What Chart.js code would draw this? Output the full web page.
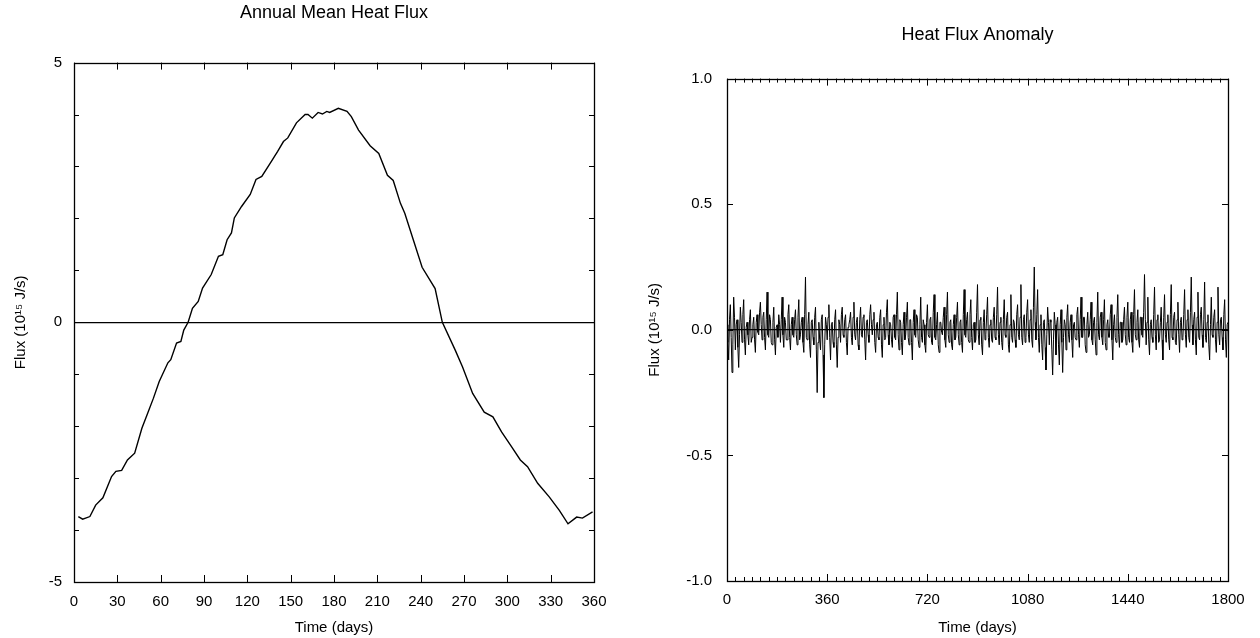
<!DOCTYPE html>
<html>
<head>
<meta charset="utf-8">
<script src="https://cdn.jsdelivr.net/npm/chart.js@4.4.1/dist/chart.umd.min.js"></script>
<style>
  body { margin: 0; background: #fff; }
  .panel { position: absolute; top: 0; width: 630px; height: 638px; }
  #left-panel { left: 0; }
  #right-panel { left: 630px; }
</style>
</head>
<body>
<div class="panel" id="left-panel"><canvas id="annual-chart"></canvas></div>
<div class="panel" id="right-panel"><canvas id="anomaly-chart"></canvas></div>
<script>
// Annual mean heat flux
const annualDays = [3, 6, 11, 15, 20, 26, 29, 33, 37, 42, 47, 51, 55, 59, 65, 67, 71, 74, 76, 79,
    82, 86, 89, 95, 100, 103, 106, 109, 111, 116, 122, 126, 130, 136, 141, 145, 148, 154, 160, 162,
    165, 169, 172, 175, 177, 183, 189, 192, 197, 205, 211, 217, 221, 226, 229, 235, 241, 250, 255, 264,
    269, 276, 284, 290, 296, 303, 309, 314, 321, 329, 336, 342, 348, 352, 359];
const annualFlux = [-3.74, -3.79, -3.74, -3.52, -3.38, -2.97, -2.87, -2.85, -2.65, -2.52, -2.04, -1.75, -1.46, -1.14, -0.78, -0.72, -0.40, -0.37, -0.15, 0.0,
    0.27, 0.40, 0.66, 0.92, 1.27, 1.30, 1.59, 1.72, 2.01, 2.23, 2.46, 2.75, 2.81, 3.07, 3.29, 3.48, 3.55, 3.84, 4.00, 4.00,
    3.93, 4.04, 4.01, 4.06, 4.04, 4.12, 4.06, 3.96, 3.70, 3.40, 3.25, 2.83, 2.73, 2.29, 2.10, 1.58, 1.06, 0.65, 0.0, -0.54,
    -0.86, -1.37, -1.73, -1.82, -2.11, -2.40, -2.65, -2.78, -3.10, -3.36, -3.62, -3.88, -3.75, -3.77, -3.65];

// Heat flux anomaly, one value every 3 days from day 0 to 1800 (one row = 120 days)
const anomalyEnd = 1800;
const anomalyFlux = [
    0.02, -0.05, -0.12, 0.04, 0.10, -0.03, -0.17, -0.06, 0.13, 0.05, -0.08, 0.02, 0.04, -0.07, -0.15, -0.02, 0.09, 0.03, -0.05, 0.06, 0.12, -0.04, -0.10, 0.01, 0.03, -0.02, -0.06, 0.04, 0.08, -0.05, -0.03, 0.02, 0.05, -0.04, -0.09, 0.03, 0.06, -0.01, -0.02, 0.07,
    0.11, 0.02, -0.04, 0.05, 0.07, -0.03, -0.08, 0.04, 0.15, -0.02, -0.03, 0.06, 0.04, -0.05, -0.06, 0.03, 0.09, -0.04, -0.10, 0.01, 0.02, -0.03, 0.06, 0.02, -0.05, 0.04, 0.13, -0.02, -0.07, 0.05, 0.03, -0.04, -0.04, 0.06, 0.10, -0.03, -0.08, 0.02, 0.05, -0.02,
    -0.03, 0.04, 0.08, -0.02, -0.06, 0.05, 0.12, -0.04, -0.02, 0.03, 0.05, -0.05, -0.09, 0.06, 0.21, -0.03, -0.04, 0.02, 0.07, -0.06, -0.11, 0.03, 0.04, -0.03, -0.06, 0.05, 0.09, -0.08, -0.25, -0.05, 0.03, -0.04, -0.08, 0.04, 0.06, -0.10, -0.27, -0.06, 0.05, 0.02,
    -0.04, 0.05, 0.10, -0.03, -0.12, 0.02, 0.03, -0.05, -0.07, 0.04, 0.08, -0.06, -0.15, -0.03, 0.04, 0.02, -0.05, 0.06, 0.09, -0.02, -0.03, 0.04, 0.06, -0.05, -0.10, 0.01, 0.02, 0.04, 0.07, -0.03, -0.06, 0.05, 0.11, -0.02, -0.04, 0.03, 0.05, -0.06, -0.08, 0.04,
    0.09, -0.02, -0.03, 0.05, 0.06, -0.04, -0.12, 0.03, 0.04, -0.02, -0.05, 0.06, 0.10, 0.02, -0.02, 0.04, 0.07, -0.05, -0.09, 0.02, 0.03, -0.03, -0.04, 0.05, 0.08, -0.06, -0.11, 0.02, 0.05, -0.04, -0.03, 0.07, 0.12, -0.02, -0.06, 0.03, 0.02, -0.04, -0.07, 0.05,
    0.06, -0.03, -0.04, 0.06, 0.15, -0.02, -0.08, 0.04, 0.03, -0.05, -0.10, 0.02, 0.07, -0.04, -0.02, 0.05, 0.11, -0.03, -0.06, 0.04, 0.04, -0.05, -0.12, 0.03, 0.08, -0.02, -0.03, 0.06, 0.05, -0.04, -0.07, 0.02, 0.13, -0.03, -0.05, 0.04, 0.02, -0.06, -0.09, 0.03,
    0.10, -0.02, -0.03, 0.04, 0.05, -0.05, -0.06, 0.07, 0.14, -0.03, -0.04, 0.02, 0.07, -0.06, -0.09, 0.03, 0.03, -0.01, -0.02, 0.05, 0.09, -0.04, -0.07, 0.06, 0.15, -0.02, -0.05, 0.03, 0.04, -0.06, -0.08, 0.02, 0.06, -0.04, -0.03, 0.05, 0.11, -0.02, -0.06, 0.03,
    0.04, -0.05, -0.09, 0.06, 0.16, -0.02, -0.03, 0.04, 0.07, -0.04, -0.05, 0.06, 0.12, -0.03, -0.08, 0.02, 0.03, -0.05, -0.04, 0.07, 0.18, -0.02, -0.06, 0.04, 0.05, -0.06, -0.10, 0.03, 0.08, -0.04, -0.02, 0.06, 0.13, -0.03, -0.07, 0.02, 0.04, -0.04, -0.05, 0.05,
    0.09, -0.03, -0.04, 0.06, 0.17, -0.02, -0.06, 0.03, 0.05, -0.05, -0.08, 0.04, 0.12, -0.02, -0.03, 0.05, 0.07, -0.06, -0.09, 0.02, 0.14, -0.03, -0.05, 0.04, 0.03, -0.04, -0.07, 0.06, 0.10, -0.02, -0.04, 0.05, 0.18, -0.03, -0.06, 0.04, 0.06, -0.05, -0.03, 0.07,
    0.12, -0.02, -0.05, 0.04, 0.08, -0.04, -0.07, 0.09, 0.25, 0.03, -0.04, 0.06, 0.16, -0.03, -0.09, 0.02, 0.06, -0.06, -0.12, 0.03, 0.04, -0.07, -0.16, -0.02, 0.09, 0.03, -0.06, 0.04, 0.03, -0.08, -0.18, -0.04, 0.07, 0.02, -0.10, 0.03, 0.05, -0.06, -0.14, 0.02,
    0.08, -0.05, -0.17, -0.03, 0.04, 0.02, -0.08, 0.05, 0.10, -0.02, -0.05, 0.03, 0.06, -0.04, -0.11, 0.02, 0.03, -0.03, -0.04, 0.06, 0.09, -0.02, -0.07, 0.04, 0.13, -0.03, -0.03, 0.05, 0.05, -0.06, -0.09, 0.02, 0.07, -0.03, -0.02, 0.04, 0.11, -0.04, -0.06, 0.03,
    0.05, -0.04, -0.10, 0.03, 0.15, -0.02, -0.04, 0.05, 0.07, -0.03, -0.06, 0.04, 0.12, -0.05, -0.08, 0.02, 0.04, -0.03, -0.03, 0.06, 0.10, -0.04, -0.12, 0.02, 0.06, -0.03, -0.05, 0.05, 0.14, -0.02, -0.07, 0.03, 0.03, -0.05, -0.04, 0.04, 0.09, -0.02, -0.06, 0.05,
    0.11, -0.03, -0.05, 0.04, 0.07, -0.05, -0.09, 0.06, 0.16, -0.02, -0.04, 0.03, 0.08, -0.04, -0.07, 0.05, 0.05, -0.02, -0.03, 0.07, 0.22, 0.04, -0.06, 0.03, 0.13, -0.04, -0.10, 0.02, 0.04, -0.03, -0.05, 0.06, 0.17, -0.02, -0.08, 0.04, 0.06, -0.05, -0.04, 0.03,
    0.09, -0.04, -0.12, 0.05, 0.14, -0.02, -0.05, 0.03, 0.06, -0.04, -0.08, 0.06, 0.18, -0.03, -0.04, 0.05, 0.07, -0.05, -0.06, 0.04, 0.11, -0.02, -0.09, 0.03, 0.05, -0.04, -0.03, 0.06, 0.16, -0.02, -0.07, 0.04, 0.08, -0.03, -0.05, 0.07, 0.21, 0.02, -0.06, 0.04,
    0.07, -0.04, -0.10, 0.05, 0.15, -0.03, -0.04, 0.06, 0.09, -0.02, -0.07, 0.04, 0.19, -0.03, -0.05, 0.03, 0.06, -0.06, -0.12, 0.02, 0.13, -0.02, -0.03, 0.05, 0.08, -0.04, -0.09, 0.03, 0.17, -0.02, -0.06, 0.04, 0.05, -0.03, -0.08, 0.06, 0.12, -0.04, -0.11, 0.02,
    0.03
];

// Axis ticks
const annualXTicks = [0, 30, 60, 90, 120, 150, 180, 210, 240, 270, 300, 330, 360];
const annualYLabels = [-5, 0, 5];
const anomalyXLabels = [0, 360, 720, 1080, 1440, 1800];
const anomalyYTicks = [-1.0, -0.5, 0.0, 0.5, 1.0];

const FONT = 'Liberation Sans, Arial, Helvetica, sans-serif';
const yTitle = 'Flux (10\u00B9\u2075 J/s)';

// Ticks pointing into the plot on all four sides, plus the frame
const inwardTicks = {
    id: 'inwardTicks',
    afterDatasetsDraw(chart, args, opts) {
        const { ctx, chartArea: a, scales: { x, y } } = chart;
        ctx.save();
        ctx.strokeStyle = '#000';
        ctx.lineWidth = 1;
        ctx.beginPath();
        x.ticks.forEach(t => {
            const px = Math.round(x.getPixelForValue(t.value)) + 0.5;
            const len = opts.majorX && opts.majorX.includes(t.value) ? opts.xMajorLen : opts.xLen;
            ctx.moveTo(px, a.bottom); ctx.lineTo(px, a.bottom - len);
            ctx.moveTo(px, a.top); ctx.lineTo(px, a.top + len);
        });
        y.ticks.forEach(t => {
            const py = Math.round(y.getPixelForValue(t.value)) + 0.5;
            ctx.moveTo(a.left, py); ctx.lineTo(a.left + opts.yLen, py);
            ctx.moveTo(a.right, py); ctx.lineTo(a.right - opts.yLen, py);
        });
        ctx.stroke();
        ctx.lineWidth = 1.3;
        ctx.strokeRect(Math.round(a.left) + 0.5, Math.round(a.top) + 0.5,
            Math.round(a.width), Math.round(a.height));
        ctx.restore();
    }
};

function zeroLine(c) {
    return c.tick && c.tick.value === 0 ? '#000' : 'rgba(0,0,0,0)';
}

function baseOptions(cfg) {
    return {
        responsive: true,
        maintainAspectRatio: false,
        animation: false,
        events: [],
        layout: { padding: { left: 0, right: cfg.padRight, top: 0, bottom: 0 } },
        plugins: {
            legend: { display: false },
            tooltip: { enabled: false },
            title: {
                display: true,
                text: cfg.title,
                fullSize: false,
                color: '#000',
                font: { family: FONT, size: 18, weight: 'normal' },
                padding: { top: cfg.titleTop, bottom: cfg.titleBottom }
            },
            inwardTicks: cfg.ticks
        },
        scales: {
            x: {
                type: 'linear',
                min: cfg.xMin,
                max: cfg.xMax,
                afterFit: s => { s.height = cfg.xHeight; },
                afterBuildTicks: s => { s.ticks = cfg.xTicks.map(v => ({ value: v })); },
                grid: { drawOnChartArea: false, drawTicks: false },
                border: { display: false },
                ticks: {
                    autoSkip: false,
                    maxRotation: 0,
                    padding: cfg.xPad,
                    color: '#000',
                    font: { family: FONT, size: 15 },
                    callback: cfg.xLabel
                },
                title: {
                    display: true,
                    text: 'Time (days)',
                    color: '#000',
                    font: { family: FONT, size: 15 },
                    padding: { top: 0, bottom: 1 }
                }
            },
            y: {
                min: cfg.yMin,
                max: cfg.yMax,
                afterFit: s => { s.width = cfg.yWidth; },
                afterBuildTicks: s => { s.ticks = cfg.yTicks.map(v => ({ value: v })); },
                grid: { color: zeroLine, lineWidth: 1.2, drawTicks: false },
                border: { display: false },
                ticks: {
                    autoSkip: false,
                    padding: cfg.yPad,
                    color: '#000',
                    font: { family: FONT, size: 15 },
                    callback: cfg.yLabel
                },
                title: {
                    display: true,
                    text: yTitle,
                    color: '#000',
                    font: { family: FONT, size: 15 },
                    padding: { top: cfg.yTitleTop, bottom: 0 }
                }
            }
        }
    };
}

// Left: annual mean
const annualYTicks = [];
for (let v = -5; v <= 5; v++) annualYTicks.push(v);

new Chart(document.getElementById('annual-chart'), {
    type: 'line',
    data: {
        datasets: [{
            data: annualDays.map((d, i) => ({ x: d, y: annualFlux[i] })),
            borderColor: '#000',
            borderWidth: 1.4,
            pointRadius: 0,
            tension: 0
        }]
    },
    options: baseOptions({
        title: 'Annual Mean Heat Flux',
        titleTop: 2, titleBottom: 39,
        padRight: 36,
        xMin: 0, xMax: 360, xHeight: 56, xTicks: annualXTicks, xPad: 11,
        xLabel: v => String(v),
        yMin: -5, yMax: 5, yWidth: 74, yTicks: annualYTicks, yPad: 12,
        yLabel: v => annualYLabels.includes(v) ? String(v) : '',
        yTitleTop: 12,
        ticks: { xLen: 7, xMajorLen: 7, yLen: 5 }
    }),
    plugins: [inwardTicks]
});

// Right: anomaly
const anomalyXTicks = [];
for (let d = 0; d <= 1800; d += 30) anomalyXTicks.push(d);
const anomalyDx = anomalyEnd / (anomalyFlux.length - 1);

new Chart(document.getElementById('anomaly-chart'), {
    type: 'line',
    data: {
        datasets: [{
            data: anomalyFlux.map((v, i) => ({ x: i * anomalyDx, y: v })),
            borderColor: '#000',
            borderWidth: 1,
            pointRadius: 0,
            tension: 0
        }]
    },
    options: baseOptions({
        title: 'Heat Flux Anomaly',
        titleTop: 24, titleBottom: 33,
        padRight: 32,
        xMin: 0, xMax: 1800, xHeight: 57, xTicks: anomalyXTicks, xPad: 10,
        xLabel: v => anomalyXLabels.includes(v) ? String(v) : '',
        yMin: -1, yMax: 1, yWidth: 97, yTicks: anomalyYTicks, yPad: 15,
        yLabel: v => v.toFixed(1),
        yTitleTop: 16,
        ticks: { xLen: 4, xMajorLen: 7, yLen: 6, majorX: anomalyXLabels }
    }),
    plugins: [inwardTicks]
});
</script>
</body>
</html>
